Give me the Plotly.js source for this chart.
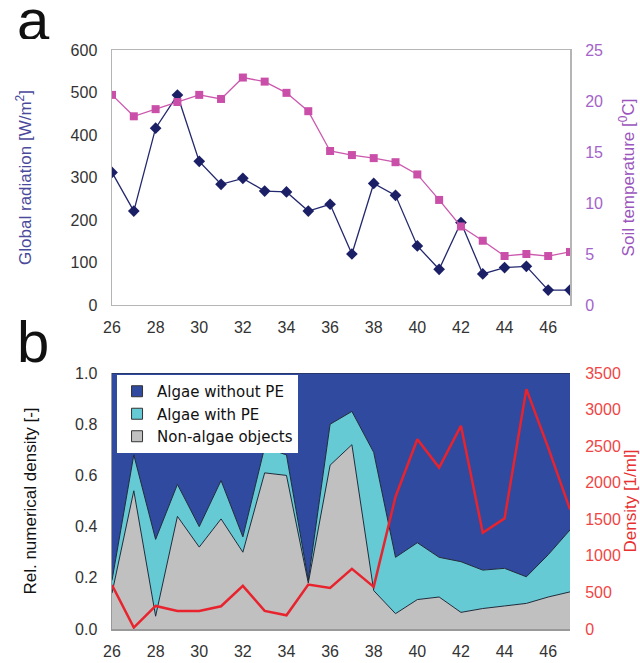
<!DOCTYPE html>
<html>
<head>
<meta charset="utf-8">
<script src="https://cdn.plot.ly/plotly-3.0.1.min.js"></script>
<style>html,body{margin:0;padding:0;background:#fff;}#chart{width:640px;height:663px;}</style>
</head>
<body>
<div id="chart"></div>
<script>
// ---- data ----
const weeks = [26,27,28,29,30,31,32,33,34,35,36,37,38,39,40,41,42,43,44,45,46,47];
const weekTicks = [26,28,30,32,34,36,38,40,42,44,46];
// panel a
const globalRadiation = [312,221,416,494,338,284,298,268,266,221,237,120,286,258,139,84,194,73,88,91,35,35];
const soilTemperature = [20.6,18.5,19.2,19.9,20.6,20.2,22.3,21.9,20.8,19.0,15.1,14.7,14.4,14.0,12.8,10.3,7.7,6.3,4.8,5.0,4.8,5.2];
// panel b (fractions)
const nonAlgae        = [0.14,0.54,0.05,0.44,0.32,0.43,0.30,0.61,0.60,0.18,0.64,0.72,0.15,0.06,0.115,0.125,0.065,0.08,0.09,0.10,0.125,0.145];
const algaeWithPE     = [0.05,0.14,0.30,0.125,0.08,0.15,0.06,0.10,0.08,0.01,0.16,0.13,0.54,0.22,0.222,0.155,0.198,0.15,0.147,0.104,0.165,0.242];
const algaeWithoutPE  = [0.81,0.32,0.65,0.435,0.60,0.42,0.64,0.29,0.32,0.81,0.20,0.15,0.31,0.72,0.663,0.72,0.737,0.77,0.763,0.796,0.71,0.613];
const density         = [600,20,315,247,247,311,590,247,187,608,562,822,576,1809,2595,2207,2778,1316,1512,3280,2480,1635];
const seriesNames = ['Non-algae objects','Algae with PE','Algae without PE'];
const seriesColors = ['#c0c0c0','#66cad4','#2f4a9f'];

const FONT = 'Liberation Sans, Arial, sans-serif';
const EDGE = '#1f2a3a';

const traces = [
  {x: weeks, y: globalRadiation, xaxis:'x', yaxis:'y', mode:'lines+markers', showlegend:false,
   line:{color:'#23286e', width:1.3}, marker:{symbol:'diamond', size:9, color:'#1b1f66'}},
  {x: weeks, y: soilTemperature, xaxis:'x', yaxis:'y2', mode:'lines+markers', showlegend:false,
   line:{color:'#cc58ae', width:1.3}, marker:{symbol:'square', size:8, color:'#c94fa8'}}
];
[nonAlgae, algaeWithPE, algaeWithoutPE].forEach((vals, i) => {
  traces.push({x: weeks, y: vals, name: seriesNames[i], xaxis:'x2', yaxis:'y3', stackgroup:'one', mode:'lines',
    showlegend:false, line:{color: EDGE, width:1}, fillcolor: seriesColors[i]});
});
traces.push({x: weeks, y: density, xaxis:'x2', yaxis:'y4', mode:'lines', showlegend:false,
  line:{color:'#e8232d', width:2.5}});
// legend entries (square swatches like the original)
[2,1,0].forEach(i => {
  traces.push({x:[null], y:[null], xaxis:'x2', yaxis:'y3', mode:'markers', name: seriesNames[i], showlegend:true,
    marker:{symbol:'square', size:11, color: seriesColors[i], line:{color:'#333', width:1}}});
});

const tickFont = {family: FONT, size: 16, color:'#333'};
const commonX = {range:[26,47], tickvals: weekTicks, ticks:'outside', ticklen:7, tickcolor:'rgba(0,0,0,0)',
  tickfont: tickFont, showgrid:false, zeroline:false};

const layout = {
  width:640, height:663,
  margin:{l:112, r:70, t:50, b:34},
  paper_bgcolor:'#fff', plot_bgcolor:'#fff',
  font:{family: FONT},
  showlegend:true,
  legend:{x:0.011, y:0.4387, xanchor:'left', yanchor:'top', bgcolor:'#fff', traceorder:'normal',
    font:{family: 'DejaVu Sans, sans-serif', size:15, color:'#111'}, tracegroupgap:0, itemwidth:30, itemsizing:'trace'},
  xaxis: Object.assign({}, commonX, {anchor:'y', domain:[0,1], showline:true, mirror:true, linecolor:'#b5b5b5', linewidth:1.5}),
  yaxis: {domain:[0.5596,1], range:[0,600], dtick:100, anchor:'x', ticks:'outside', ticklen:10, tickcolor:'rgba(0,0,0,0)',
    tickfont: tickFont, showgrid:false, zeroline:false, showline:true, mirror:true, linecolor:'#b5b5b5', linewidth:1.5,
    title:{text:'Global radiation [W/m<sup>2</sup>]', font:{family:FONT, size:17, color:'#4a4a9c'}, standoff:34}},
  yaxis2: {overlaying:'y', side:'right', anchor:'x', range:[0,25], dtick:5, ticks:'outside', ticklen:11, tickcolor:'rgba(0,0,0,0)',
    tickfont:{family:FONT, size:16, color:'#a463c8'}, showgrid:false, zeroline:false,
    title:{text:'Soil temperature [<sup>0</sup>C]', font:{family:FONT, size:17, color:'#9b55bd'}, standoff:20}},
  xaxis2: Object.assign({}, commonX, {anchor:'y3', domain:[0,1], showline:true, linecolor:'#999', linewidth:1.5}),
  yaxis3: {domain:[0,0.4421], range:[0,1], dtick:0.2, tickformat:'.1f', anchor:'x2', ticks:'outside', ticklen:10, tickcolor:'rgba(0,0,0,0)',
    tickfont: tickFont, showgrid:false, zeroline:false, showline:true, linecolor:'#999', linewidth:1.5,
    title:{text:'Rel. numerical density [-]', font:{family:FONT, size:17, color:'#111'}, standoff:34}},
  yaxis4: {overlaying:'y3', side:'right', anchor:'x2', range:[0,3500], dtick:500, ticks:'outside', ticklen:11, tickcolor:'rgba(0,0,0,0)',
    tickfont:{family:FONT, size:16, color:'#f04545'}, showgrid:false, zeroline:false,
    title:{text:'Density [1/ml]', font:{family:FONT, size:17, color:'#e83030'}, standoff:3}},
  annotations:[
    {text:'a', xref:'paper', yref:'paper', x:-0.211, y:1.0535, xanchor:'left', yanchor:'middle', showarrow:false,
     height:40, font:{family:FONT, size:58, color:'#111'}},
    {text:'b', xref:'paper', yref:'paper', x:-0.211, y:0.497, xanchor:'left', yanchor:'middle', showarrow:false,
     height:48, font:{family:FONT, size:58, color:'#111'}}
  ]
};

Plotly.newPlot('chart', traces, layout, {staticPlot:true, displayModeBar:false});
</script>
</body>
</html>
